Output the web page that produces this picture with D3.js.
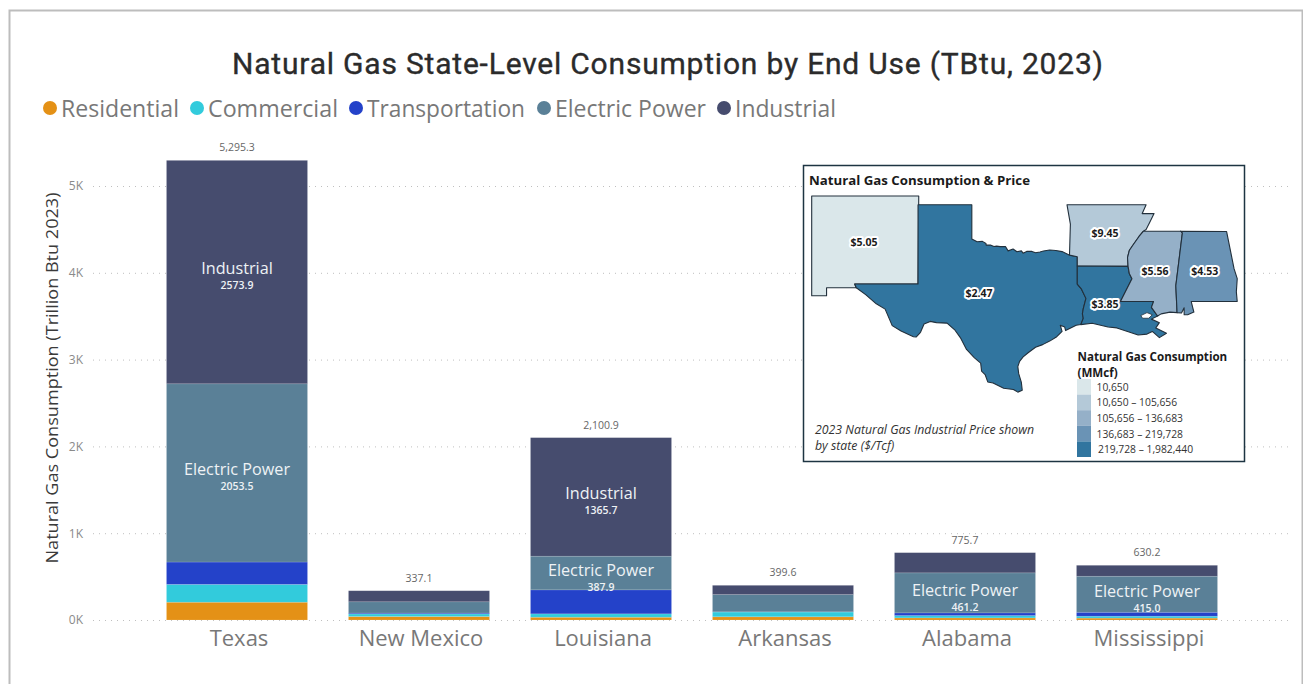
<!DOCTYPE html>
<html><head><meta charset="utf-8">
<script src="https://cdn.jsdelivr.net/npm/d3@7/dist/d3.min.js"></script>
<style>html,body{margin:0;padding:0;background:#fff;overflow:hidden}svg{display:block}text{font-family:"Open Sans",sans-serif}</style>
</head><body><svg id="c" width="1303" height="684"></svg>
<script>
// ---------- chart data ----------
const states = ["Texas","New Mexico","Louisiana","Arkansas","Alabama","Mississippi"];
const endUses = ["Residential","Commercial","Transportation","Electric Power","Industrial"];
const residential   = [205, 40, 32, 37, 24, 22];
const commercial    = [205, 30, 39, 55, 27, 22];
const transportation= [257.9, 10, 276.3, 2, 31, 45.2];
const electricPower = [2053.5, 130, 387.9, 199, 461.2, 415.0];
const industrial    = [2573.9, 127.1, 1365.7, 106.6, 232.5, 126];
const totals = ["5,295.3","337.1","2,100.9","399.6","775.7","630.2"];
const colors = ["#e49116","#32cbdc","#2442c9","#5a8097","#464c6e"];
const yTicks = [0,1000,2000,3000,4000,5000];
const title = "Natural Gas State-Level Consumption by End Use (TBtu, 2023)";
const yTitle = "Natural Gas Consumption (Trillion Btu 2023)";
// labels shown inside segments: [state index, series index]
const insideLabels = [[0,4],[0,3],[2,4],[2,3],[4,3],[5,3]];

// ---------- inset map data (lon, lat) ----------
const mapStates = ["New Mexico","Texas","Arkansas","Louisiana","Mississippi","Alabama"];
const prices = ["$5.05","$2.47","$9.45","$3.85","$5.56","$4.53"];
const priceAnchors = [[-106.1,34.38],[-99.6,31.48],[-92.47,34.9],[-92.47,30.85],[-89.65,32.73],[-86.83,32.73]];
const mapBins = ["10,650","10,650 – 105,656","105,656 – 136,683","136,683 – 219,728","219,728 – 1,982,440"];
const binColors = ["#dae7ea","#b4c9d8","#95b0c8","#6a93b5","#31759f"];
const stateBin = [0,4,1,4,2,3];
const outlines = [
 [[-109.05,37],[-103,37],[-103.04,32],[-106.62,32],[-106.53,31.78],[-108.21,31.78],[-108.21,31.33],[-109.05,31.33]],
 [[-103.04,36.5],[-100,36.5],[-100,34.56],[-99.7,34.4],[-99.4,34.42],[-99.2,34.3],[-99.19,34.21],[-98.95,34.21],[-98.75,34.13],[-98.6,34.15],[-98.4,34.12],[-98.1,34.13],[-97.95,33.88],[-97.67,33.99],[-97.45,33.83],[-97.2,33.88],[-97.1,33.75],[-96.9,33.85],[-96.6,33.85],[-96.4,33.77],[-96.15,33.82],[-95.95,33.87],[-95.6,33.93],[-95.25,33.9],[-94.9,33.84],[-94.5,33.65],[-94.04,33.55],[-94.04,33.02],[-94.04,32.4],[-94.04,31.99],[-93.8,31.7],[-93.55,31.18],[-93.7,30.6],[-93.75,30.3],[-93.7,30.05],[-93.84,29.69],[-94.1,29.65],[-94.7,29.35],[-94.75,29.55],[-95.0,29.65],[-94.9,29.3],[-95.2,29.0],[-95.6,28.75],[-96.0,28.55],[-96.4,28.4],[-96.8,28.1],[-97.1,27.85],[-97.3,27.6],[-97.4,27.3],[-97.35,26.9],[-97.2,26.4],[-97.15,25.96],[-97.4,25.85],[-97.65,26.0],[-98.2,26.07],[-98.8,26.37],[-99.1,26.43],[-99.25,26.85],[-99.45,27.05],[-99.5,27.5],[-99.85,27.8],[-100.3,28.28],[-100.65,28.95],[-100.95,29.37],[-101.4,29.77],[-102.0,29.8],[-102.35,29.87],[-102.7,29.72],[-102.9,29.25],[-103.15,28.98],[-103.3,29.0],[-104.0,29.32],[-104.5,29.63],[-104.9,30.57],[-105.4,30.87],[-106.0,31.39],[-106.53,31.78],[-106.62,32],[-103.04,32]],
 [[-94.62,36.5],[-90.15,36.5],[-90.37,36.0],[-89.7,36.0],[-89.95,35.5],[-90.15,35.1],[-90.3,35.0],[-90.55,34.7],[-90.9,34.2],[-91.1,33.9],[-91.2,33.5],[-91.17,33.0],[-94.04,33.02],[-94.04,33.55],[-94.48,33.64],[-94.43,35.4]],
 [[-94.04,33.02],[-91.17,33.0],[-91.1,32.6],[-90.95,32.3],[-91.1,32.0],[-91.6,31.0],[-89.73,31.0],[-89.85,30.67],[-89.5,30.18],[-89.85,30.0],[-89.4,29.8],[-89.6,29.5],[-89.0,29.2],[-89.4,28.95],[-89.8,29.3],[-90.1,29.15],[-90.6,29.1],[-91.2,29.3],[-91.8,29.5],[-92.3,29.55],[-93.2,29.77],[-93.84,29.69],[-93.7,30.05],[-93.75,30.3],[-93.7,30.6],[-93.55,31.18],[-93.8,31.7],[-94.04,31.99]],
 [[-90.3,35],[-88.2,35],[-88.1,34.9],[-88.47,31.9],[-88.4,30.37],[-88.8,30.4],[-89.3,30.3],[-89.5,30.18],[-89.85,30.67],[-89.73,31],[-91.6,31],[-91.1,32],[-90.95,32.3],[-91.1,32.6],[-91.17,33],[-91.2,33.5],[-91.1,33.9],[-90.9,34.2],[-90.55,34.7]],
 [[-88.2,35],[-85.6,34.98],[-85.18,32.87],[-85.0,32.3],[-85.05,31.55],[-85.0,31.0],[-87.6,31.0],[-87.45,30.4],[-87.8,30.25],[-88.0,30.25],[-88.0,30.65],[-88.15,30.35],[-88.4,30.37],[-88.47,31.9],[-88.1,34.9]]
];
const lake = [[-90.45,30.2],[-90.1,30.37],[-89.8,30.25],[-90.0,30.05],[-90.35,30.05]];

// ---------- drawing ----------
const svg = d3.select("#c");
svg.append("path").attr("d","M9.5 684V10.5H1302.5V684").attr("fill","none").attr("stroke","#bdbdbd").attr("stroke-width",2);

svg.append("text").attr("x",667.5).attr("y",74).attr("text-anchor","middle")
  .attr("font-size",30).attr("font-weight",400).attr("fill","#2b2b2b").attr("stroke","#2b2b2b").attr("stroke-width",0.35)
  .style("font-family","Roboto,sans-serif")
  .attr("textLength",871).attr("lengthAdjust","spacing").text(title);

// legend
const legendPos = [[50,61,118],[197,208,130],[356,367,158],[544,555,151],[724,735,101]];
const lg = svg.append("g").selectAll("g").data(endUses).join("g");
lg.append("circle").attr("cx",(d,i)=>legendPos[i][0]).attr("cy",108).attr("r",7).attr("fill",(d,i)=>colors[i]);
lg.append("text").attr("x",(d,i)=>legendPos[i][1]).attr("y",117).attr("font-size",23.5).attr("fill","#787878")
  .attr("textLength",(d,i)=>legendPos[i][2]).attr("lengthAdjust","spacingAndGlyphs").text(d=>d);

const y = d3.scaleLinear().domain([0,5000]).range([620,186]);
const x = d3.scaleBand().domain(states).range([146,1238]).paddingInner(0.225).paddingOuter(0.1125);

const axis = d3.axisLeft(y).tickValues(yTicks).tickFormat(d=>(d/1000)+"K").tickSize(0).tickPadding(10);
const ag = svg.append("g").attr("transform","translate(93,0)").call(axis);
ag.select(".domain").remove();
ag.selectAll("text").attr("font-size",12).attr("fill","#8a8a8a").style("font-family","'Open Sans',sans-serif");
ag.selectAll("line").attr("x1",0).attr("x2",1197).attr("stroke","#bfbfbf").attr("stroke-width",1).attr("stroke-dasharray","1 5");

svg.append("text").attr("transform","translate(58,378) rotate(-90)").attr("text-anchor","middle")
  .attr("font-size",17).attr("fill","#3a3a3a").attr("textLength",371).attr("lengthAdjust","spacingAndGlyphs").text(yTitle);

// stacked bars
const series = [residential,commercial,transportation,electricPower,industrial];
const rows = states.map((s,i)=>{const o={state:s};endUses.forEach((e,j)=>o[e]=series[j][i]);return o;});
const stacked = d3.stack().keys(endUses)(rows);
svg.append("g").selectAll("g").data(stacked).join("g").attr("fill",(d,i)=>colors[i])
  .selectAll("rect").data(d=>d).join("rect")
  .attr("x",d=>x(d.data.state)).attr("width",x.bandwidth())
  .attr("y",d=>y(d[1])).attr("height",d=>y(d[0])-y(d[1]))
  .attr("stroke","#ffffff").attr("stroke-opacity",0.2).attr("stroke-width",0.7);

// totals
svg.append("g").selectAll("text").data(states).join("text")
  .attr("x",d=>x(d)+x.bandwidth()/2).attr("y",(d,i)=>y(d3.sum(series,s=>s[i]))-9)
  .attr("text-anchor","middle").attr("font-size",10.5).attr("fill","#666").text((d,i)=>totals[i]);

// category labels
svg.append("g").selectAll("text").data(states).join("text")
  .attr("x",d=>x(d)+x.bandwidth()/2+2).attr("y",646).attr("text-anchor","middle")
  .attr("font-size",22).attr("fill","#787878").text(d=>d);

// inside labels
const il = svg.append("g").selectAll("g").data(insideLabels).join("g");
const segMid = ([s,k])=>{const d=stacked[k][s];return (y(d[0])+y(d[1]))/2;};
const nameOff = ([s,k])=>{const d=stacked[k][s];const h=y(d[0])-y(d[1]);return h>60?2:3;};
il.append("text").attr("x",([s])=>x(states[s])+x.bandwidth()/2).attr("y",d=>segMid(d)+nameOff(d))
  .attr("text-anchor","middle").attr("font-size",16.2).attr("fill","#eef2f5").text(([s,k])=>endUses[k]);
il.append("text").attr("x",([s])=>x(states[s])+x.bandwidth()/2).attr("y",d=>segMid(d)+nameOff(d)+15)
  .attr("text-anchor","middle").attr("font-size",10.5).attr("font-weight",600).attr("fill","#eef2f5")
  .text(([s,k])=>series[k][s].toFixed(1));

// inset
svg.append("rect").attr("x",803.5).attr("y",165.5).attr("width",441).attr("height",296)
  .attr("fill","#fff").attr("stroke","#1d3442").attr("stroke-width",1.5);
svg.append("text").attr("x",809).attr("y",185).attr("font-size",12.5).attr("font-weight",700).attr("fill","#1a1a1a")
  .attr("textLength",221).attr("lengthAdjust","spacingAndGlyphs").text("Natural Gas Consumption & Price");

const lonS = d3.scaleLinear().domain([-109.05,-84.9]).range([811.7,1239]);
const latS = d3.scaleLinear().domain([37,25.84]).range([196,392.3]);
const geo = d3.geoPath(d3.geoTransform({point(lon,lat){this.stream.point(lonS(lon),latS(lat));}}));
const polyOf = r=>({type:"Polygon",coordinates:[[...r,r[0]]]});
svg.append("g").selectAll("path").data(outlines).join("path").attr("d",d=>geo(polyOf(d)))
  .attr("fill",(d,i)=>binColors[stateBin[i]]).attr("stroke","#22303c").attr("stroke-width",1.1).attr("stroke-linejoin","round");
svg.append("path").attr("d",geo(polyOf(lake))).attr("fill","#fff").attr("stroke","#22303c").attr("stroke-width",0.8);

svg.append("g").selectAll("text").data(prices).join("text")
  .attr("x",(d,i)=>lonS(priceAnchors[i][0])).attr("y",(d,i)=>latS(priceAnchors[i][1])+4)
  .attr("text-anchor","middle").attr("font-size",10.5).attr("font-weight",700).attr("fill","#1a1a1a")
  .attr("stroke","#fff").attr("stroke-width",4).attr("stroke-linejoin","round").attr("paint-order","stroke").text(d=>d);

const note = ["2023 Natural Gas Industrial Price shown","by state ($/Tcf)"];
svg.append("g").selectAll("text").data(note).join("text").attr("x",815).attr("y",(d,i)=>434+i*16)
  .attr("font-size",12.3).attr("font-style","italic").attr("fill","#333").text(d=>d);

const legTitle = ["Natural Gas Consumption","(MMcf)"];
svg.append("g").selectAll("text").data(legTitle).join("text").attr("x",1077.5).attr("y",(d,i)=>361+i*15.5)
  .attr("font-size",11.6).attr("font-weight",700).attr("fill","#1a1a1a").text(d=>d);
const binY = d3.scaleBand().domain(mapBins).range([379,457]);
svg.append("g").selectAll("rect").data(mapBins).join("rect").attr("x",1077).attr("y",d=>binY(d))
  .attr("width",14).attr("height",binY.bandwidth()).attr("fill",(d,i)=>binColors[i]);
svg.append("g").selectAll("text").data(mapBins).join("text")
  .attr("x",(d,i)=>i==4?1098:1096.5).attr("y",d=>binY(d)+binY.bandwidth()/2+4)
  .attr("font-size",10.3).attr("fill","#333").text(d=>d);
</script></body></html>
